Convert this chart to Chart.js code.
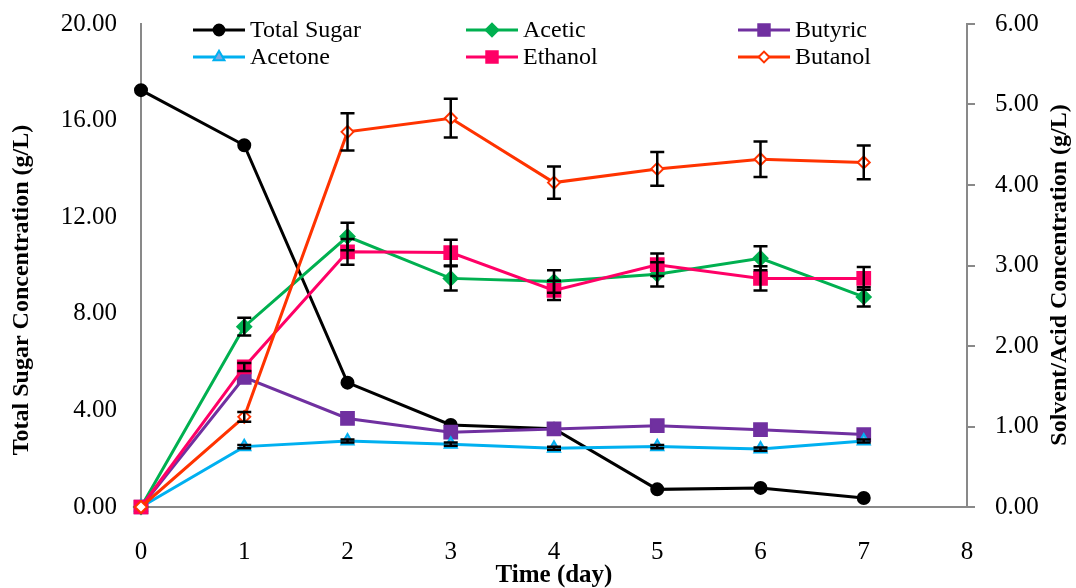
<!DOCTYPE html>
<html>
<head>
<meta charset="utf-8">
<script src="https://cdn.jsdelivr.net/npm/chart.js@4"></script>
<style>
  html, body { margin: 0; padding: 0; background: #fff; }
  #wrap { width: 1076px; height: 588px; position: relative; }
</style>
</head>
<body>
<div id="wrap"><canvas id="fermChart" width="1076" height="588"></canvas></div>
<script>
// data
const days = [0, 1, 2, 3, 4, 5, 6, 7];
const totalSugar = [17.26, 14.98, 5.15, 3.40, 3.24, 0.73, 0.79, 0.37];
const acetic = [0, 2.24, 3.36, 2.84, 2.80, 2.89, 3.09, 2.61];
const aceticErr = [0, 0.11, 0.17, 0.15, 0.14, 0.15, 0.15, 0.12];
const butyric = [0, 1.61, 1.10, 0.93, 0.97, 1.01, 0.96, 0.90];
const acetone = [0, 0.75, 0.82, 0.78, 0.73, 0.75, 0.72, 0.82];
const acetoneErr = [0, 0.02, 0.02, 0.02, 0.02, 0.02, 0.02, 0.02];
const ethanol = [0, 1.74, 3.17, 3.16, 2.69, 3.01, 2.84, 2.84];
const ethanolErr = [0, 0.05, 0.16, 0.16, 0.12, 0.14, 0.15, 0.14];
const butanol = [0, 1.12, 4.66, 4.83, 4.03, 4.20, 4.32, 4.28];
const butanolErr = [0, 0.06, 0.23, 0.24, 0.20, 0.21, 0.22, 0.21];

const serif = "'Liberation Serif', 'Times New Roman', serif";
const axisGray = '#898989';

function pts(vals) {
    return vals.map((v, i) => ({ x: days[i], y: v }));
}

function series(label, vals, axis, color, style, radius, fill, errs) {
    return {
        label: label,
        data: pts(vals),
        yAxisID: axis,
        borderColor: color,
        backgroundColor: color,
        borderWidth: 3,
        pointStyle: style,
        pointRadius: radius,
        pointBackgroundColor: fill,
        pointBorderColor: color,
        pointBorderWidth: 2,
        tension: 0,
        clip: false,
        errors: errs
    };
}

const datasets = [
    series('Total Sugar', totalSugar, 'y', '#000000', 'circle', 6, '#000000', null),
    series('Acetic', acetic, 'y1', '#00B050', 'rectRot', 7, '#00B050', aceticErr),
    series('Butyric', butyric, 'y1', '#7030A0', 'rect', 9, '#7030A0', null),
    series('Acetone', acetone, 'y1', '#00B0F0', 'triangle', 7, '#7EA6E0', acetoneErr),
    series('Ethanol', ethanol, 'y1', '#FF0066', 'rect', 9, '#FF0066', ethanolErr),
    series('Butanol', butanol, 'y1', '#FF3300', 'rectRot', 6, '#FFFFFF', butanolErr)
];
// later series sit on top
datasets.forEach((d, i) => { d.order = datasets.length - i; });

// error bars, drawn through the chart's scales
const errorBars = {
    id: 'errorBars',
    afterDatasetsDraw(chart) {
        const ctx = chart.ctx;
        const xs = chart.scales.x;
        ctx.save();
        ctx.strokeStyle = '#000';
        ctx.lineWidth = 2.5;
        chart.data.datasets.forEach(ds => {
            if (!ds.errors) return;
            const ys = chart.scales[ds.yAxisID];
            ds.data.forEach((p, i) => {
                const e = ds.errors[i];
                if (!e) return;
                const px = xs.getPixelForValue(p.x);
                const top = ys.getPixelForValue(p.y + e);
                const bot = ys.getPixelForValue(p.y - e);
                ctx.beginPath();
                ctx.moveTo(px, top); ctx.lineTo(px, bot);
                ctx.moveTo(px - 7, top); ctx.lineTo(px + 7, top);
                ctx.moveTo(px - 7, bot); ctx.lineTo(px + 7, bot);
                ctx.stroke();
            });
        });
        ctx.restore();
    }
};

// 3-column legend inside the plot and the side titles
const legendAndTitles = {
    id: 'legendAndTitles',
    afterDraw(chart) {
        const ctx = chart.ctx;
        const cols = [193, 466, 738];
        const rows = [30, 57];
        ctx.save();
        chart.data.datasets.forEach((ds, k) => {
            const x0 = cols[k % 3];
            const y0 = rows[Math.floor(k / 3)];
            ctx.strokeStyle = ds.borderColor;
            ctx.lineWidth = 3;
            ctx.beginPath();
            ctx.moveTo(x0, y0); ctx.lineTo(x0 + 52, y0);
            ctx.stroke();
            ctx.fillStyle = ds.pointBackgroundColor;
            ctx.strokeStyle = ds.pointBorderColor;
            ctx.lineWidth = 2;
            Chart.helpers.drawPoint(ctx, {
                pointStyle: ds.pointStyle,
                radius: ds.pointRadius * 0.9,
                rotation: 0,
                borderWidth: 2
            }, x0 + 26, y0);
            ctx.fillStyle = '#000';
            ctx.font = '24px ' + serif;
            ctx.textAlign = 'left';
            ctx.textBaseline = 'middle';
            ctx.fillText(ds.label, x0 + 57, y0 + 1);
        });

        ctx.font = 'bold 24px ' + serif;
        ctx.fillStyle = '#000';
        ctx.textAlign = 'center';
        ctx.textBaseline = 'middle';
        ctx.translate(22, 290);
        ctx.rotate(-Math.PI / 2);
        ctx.fillText('Total Sugar Concentration (g/L)', 0, 0);
        ctx.setTransform(1, 0, 0, 1, 0, 0);
        ctx.translate(1060, 275);
        ctx.rotate(-Math.PI / 2);
        ctx.fillText('Solvent/Acid Concentration (g/L)', 0, 0);
        ctx.restore();
    }
};

function noVPad(s) {
    s.paddingTop = 0;
    s.paddingBottom = 0;
}

const fermCtx = document.getElementById('fermChart').getContext('2d');
new Chart(fermCtx, {
    type: 'line',
    data: { datasets: datasets },
    plugins: [errorBars, legendAndTitles],
    options: {
        responsive: false,
        animation: false,
        layout: { padding: { top: 24, left: 0, right: 0, bottom: 0 } },
        plugins: {
            legend: { display: false },
            tooltip: { enabled: false }
        },
        scales: {
            x: {
                type: 'linear',
                min: 0,
                max: 8,
                ticks: { stepSize: 1, color: '#000', font: { family: serif, size: 25 }, padding: 22 },
                grid: { display: false },
                border: { display: true, color: axisGray, width: 2 },
                title: { display: true, text: 'Time (day)', color: '#000',
                         font: { family: serif, size: 25, weight: 'bold', lineHeight: 1 },
                         padding: { top: 0, bottom: 0 } },
                afterFit(s) { s.height = 81; }
            },
            y: {
                position: 'left',
                min: 0,
                max: 20,
                ticks: { stepSize: 4, color: '#000', font: { family: serif, size: 25 }, padding: 16,
                         callback: v => v.toFixed(2) },
                grid: { display: false },
                border: { display: true, color: axisGray, width: 2 },
                afterFit(s) { s.width = 141; noVPad(s); }
            },
            y1: {
                position: 'right',
                min: 0,
                max: 6,
                ticks: { stepSize: 1, color: '#000', font: { family: serif, size: 25 }, padding: 20,
                         callback: v => v.toFixed(2) },
                grid: { display: true, drawOnChartArea: false, drawTicks: true, tickLength: 8,
                        color: axisGray, lineWidth: 2 },
                border: { display: true, color: axisGray, width: 2 },
                afterFit(s) { s.width = 109; noVPad(s); }
            }
        }
    }
});
</script>
</body>
</html>
